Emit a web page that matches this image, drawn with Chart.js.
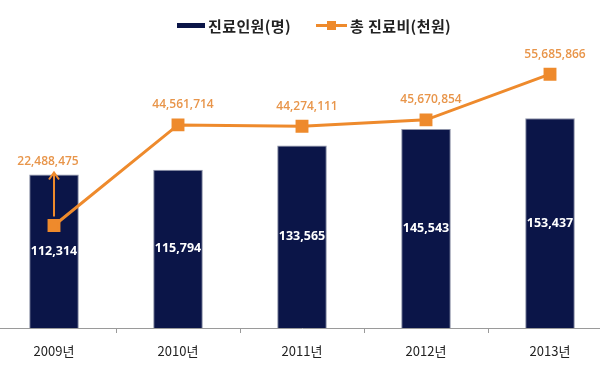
<!DOCTYPE html>
<html>
<head>
<meta charset="utf-8">
<script src="https://cdn.jsdelivr.net/npm/chart.js@4/dist/chart.umd.min.js"></script>
<style>
  html, body { margin: 0; padding: 0; background: #fff; }
  body { width: 600px; height: 370px; overflow: hidden; position: relative; }
  #chart { position: absolute; left: -8px; top: 0; }
  .legend { position: absolute; top: 14px; left: 0; width: 600px; height: 22px; z-index: 2;
    font: bold 15px "Noto Sans CJK KR", sans-serif; color: #222; }
  .item { position: absolute; top: 0; display: flex; align-items: center; height: 22px; white-space: nowrap; letter-spacing: 0.4px; }
  .bar-key { width: 28px; height: 5px; background: #0b1548; margin-right: 3px; }
  .line-key { position: relative; width: 31px; height: 3px; background: #ee8a2c; margin-right: 3px; }
  .line-key::after { content: ""; position: absolute; left: 11px; top: -3px; width: 9px; height: 9px; background: #ee8a2c; }
</style>
</head>
<body>
<div class="legend">
  <div class="item" style="left:177px"><span class="bar-key"></span>진료인원(명)</div>
  <div class="item" style="left:316px"><span class="line-key"></span>총 진료비(천원)</div>
</div>
<canvas id="chart" width="620" height="370"></canvas>
<script>
const years = ["2009년", "2010년", "2011년", "2012년", "2013년"];
const patients = [112314, 115794, 133565, 145543, 153437];
const costs = [22488475, 44561714, 44274111, 45670854, 55685866];

const fmt = (n) => n.toLocaleString("en-US");

// value labels: white inside bars, orange above points
const valueLabels = {
  id: "valueLabels",
  afterDatasetsDraw(chart) {
    const ctx = chart.ctx;
    const bars = chart.getDatasetMeta(0).data;
    const points = chart.getDatasetMeta(1).data;
    ctx.save();
    ctx.textAlign = "center";
    ctx.textBaseline = "middle";

    ctx.fillStyle = "#ffffff";
    ctx.font = "bold 12.5px 'Open Sans', sans-serif";
    bars.forEach((bar, i) => {
      ctx.fillText(fmt(patients[i]), bar.x, (bar.y + bar.base) / 2);
    });

    ctx.fillStyle = "#e8954a";
    ctx.strokeStyle = "#ee8a2c";
    ctx.font = "600 12px 'Open Sans', sans-serif";
    points.forEach((pt, i) => {
      if (i === 0) {
        // label sits above the bar, arrow points up to it
        const top = bars[0].y;
        ctx.fillText(fmt(costs[i]), pt.x - 6, top - 13);
        ctx.lineWidth = 2;
        ctx.beginPath();
        ctx.moveTo(pt.x, pt.y - 9);
        ctx.lineTo(pt.x, top - 2);
        ctx.moveTo(pt.x - 5, top + 5);
        ctx.lineTo(pt.x, top - 2);
        ctx.lineTo(pt.x + 5, top + 5);
        ctx.stroke();
      } else {
        ctx.fillText(fmt(costs[i]), pt.x + 5, pt.y - 20);
      }
    });
    ctx.restore();
  },
};

new Chart(document.getElementById("chart"), {
  data: {
    labels: years,
    datasets: [
      {
        type: "bar",
        label: "진료인원(명)",
        data: patients,
        yAxisID: "y",
        backgroundColor: "#0b1548",
        borderColor: "#8e93a8",
        borderWidth: 1,
        barPercentage: 0.4,
        categoryPercentage: 1,
        order: 2,
      },
      {
        type: "line",
        label: "총 진료비(천원)",
        data: costs,
        yAxisID: "y2",
        borderColor: "#ee8a2c",
        backgroundColor: "#ee8a2c",
        borderWidth: 3,
        pointStyle: "rect",
        pointRadius: 7,
        pointHoverRadius: 7,
        tension: 0,
        clip: false,
        order: 1,
      },
    ],
  },
  options: {
    responsive: false,
    animation: false,
    layout: { autoPadding: false, padding: { top: 40, left: 0, right: 0, bottom: 0 } },
    plugins: { legend: { display: false }, tooltip: { enabled: false } },
    scales: {
      x: {
        offset: true,
        grid: { offset: true, drawOnChartArea: false, tickLength: 5, color: "#9a9a9a" },
        border: { color: "#9a9a9a", width: 1 },
        ticks: { color: "#222", font: { family: "'Noto Sans CJK KR'", size: 13 }, padding: 10 },
        afterFit(scale) { scale.height = 42; },
      },
      y: { display: false, min: 0, max: 210700 },
      y2: { display: false, min: 0, max: 63190000 },
    },
  },
  plugins: [valueLabels],
});
</script>
</body>
</html>
